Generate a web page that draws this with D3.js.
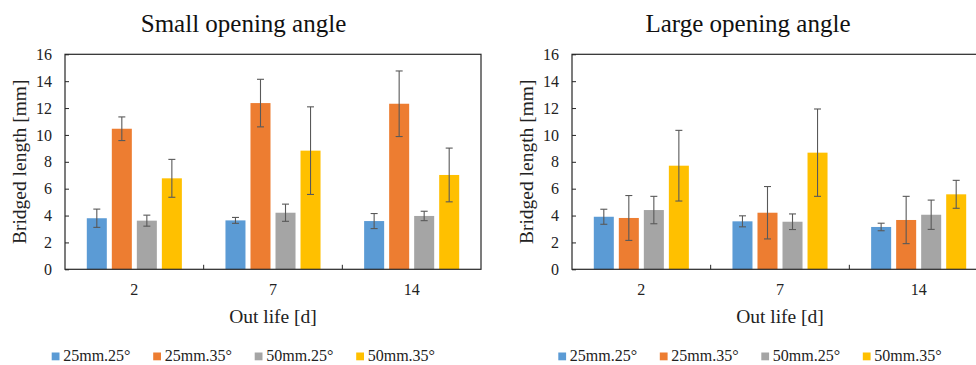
<!DOCTYPE html>
<html>
<head>
<meta charset="utf-8">
<script src="https://cdn.jsdelivr.net/npm/d3@7"></script>
<style>
  body { margin: 0; background: #fff; }
  svg { display: block; }
  svg text { font-family: "Liberation Serif", "Times New Roman", serif; }
</style>
</head>
<body>
<svg id="chart" width="976" height="365"></svg>
<script>
const categories = ['2', '7', '14'];
const seriesNames = ['25mm.25°', '25mm.35°', '50mm.25°', '50mm.35°'];
const colors = ['#5b9bd5', '#ed7d31', '#a5a5a5', '#ffc000'];
const yTicks = [0, 2, 4, 6, 8, 10, 12, 14, 16];

// small opening angle: mean and error per series, one value per out life
const smallMeans = [
  [3.80, 3.64, 3.59],
  [10.46, 12.37, 12.32],
  [3.62, 4.21, 3.97],
  [6.77, 8.83, 7.02]
];
const smallErrors = [
  [0.68, 0.22, 0.56],
  [0.88, 1.77, 2.44],
  [0.41, 0.64, 0.35],
  [1.41, 3.26, 2.00]
];

// large opening angle
const largeMeans = [
  [3.91, 3.57, 3.15],
  [3.82, 4.21, 3.67],
  [4.41, 3.54, 4.06],
  [7.71, 8.68, 5.58]
];
const largeErrors = [
  [0.56, 0.41, 0.28],
  [1.67, 1.95, 1.76],
  [1.02, 0.58, 1.09],
  [2.63, 3.25, 1.04]
];

const svg = d3.select('#chart');
const plotTop = 54.3, plotBottom = 269.3, plotW = 416;

const y = d3.scaleLinear().domain([0, 16]).range([plotBottom, plotTop]);

function drawChart(title, left, titleX, legendX, means, errors) {
  const g = svg.append('g');
  const x = d3.scaleBand().domain(categories).range([left, left + plotW]);
  const xs = d3.scaleBand().domain(seriesNames)
    .range([21.8, x.bandwidth() - 21.8]).paddingInner(0.2);

  g.append('text')
    .attr('x', titleX).attr('y', 31.5)
    .attr('text-anchor', 'middle')
    .style('font-size', '25px').attr('fill', '#111')
    .text(title);

  // bars
  const data = [];
  categories.forEach((c, ci) => {
    seriesNames.forEach((s, si) => {
      data.push({ c, s, si, v: means[si][ci], e: errors[si][ci] });
    });
  });

  g.selectAll('rect.bar')
    .data(data)
    .enter()
    .append('rect')
    .attr('class', 'bar')
    .attr('x', d => x(d.c) + xs(d.s))
    .attr('y', d => y(d.v))
    .attr('width', xs.bandwidth())
    .attr('height', d => y(0) - y(d.v))
    .attr('fill', d => colors[d.si]);

  // error bars
  const eb = g.selectAll('g.err')
    .data(data)
    .enter()
    .append('g')
    .attr('stroke', '#595959')
    .attr('stroke-width', 1.1);
  const cx = d => x(d.c) + xs(d.s) + xs.bandwidth() / 2;
  eb.append('line')
    .attr('x1', cx).attr('x2', cx)
    .attr('y1', d => y(d.v + d.e)).attr('y2', d => y(d.v - d.e));
  eb.append('line')
    .attr('x1', d => cx(d) - 3.5).attr('x2', d => cx(d) + 3.5)
    .attr('y1', d => y(d.v + d.e)).attr('y2', d => y(d.v + d.e));
  eb.append('line')
    .attr('x1', d => cx(d) - 3.5).attr('x2', d => cx(d) + 3.5)
    .attr('y1', d => y(d.v - d.e)).attr('y2', d => y(d.v - d.e));

  // plot frame
  g.append('rect')
    .attr('x', left).attr('y', plotTop)
    .attr('width', plotW).attr('height', plotBottom - plotTop)
    .attr('fill', 'none').attr('stroke', '#262626').attr('stroke-width', 1.2);

  // y axis
  const yAxis = g.append('g')
    .attr('transform', `translate(${left},0)`)
    .call(d3.axisLeft(y).tickValues(yTicks).tickSize(-4).tickPadding(13));
  yAxis.attr('font-family', null).attr('font-size', null);
  yAxis.select('.domain').remove();
  yAxis.selectAll('line').attr('stroke', '#262626');
  yAxis.selectAll('text').style('font-size', '16px').attr('fill', '#222');

  // x axis: ticks at category boundaries, labels centered
  const bounds = categories.slice(1).map(c => x(c));
  g.selectAll('line.xt')
    .data(bounds)
    .enter()
    .append('line')
    .attr('x1', d => d).attr('x2', d => d)
    .attr('y1', plotBottom).attr('y2', plotBottom - 4.5)
    .attr('stroke', '#262626');
  g.selectAll('text.xl')
    .data(categories)
    .enter()
    .append('text')
    .attr('x', d => x(d) + x.bandwidth() / 2)
    .attr('y', 295)
    .attr('text-anchor', 'middle')
    .style('font-size', '16px').attr('fill', '#222')
    .text(d => d);

  g.append('text')
    .attr('x', left + plotW / 2).attr('y', 323.3)
    .attr('text-anchor', 'middle')
    .style('font-size', '19.5px').attr('fill', '#222')
    .text('Out life [d]');

  g.append('text')
    .attr('transform', `translate(${left - 39},${(plotTop + plotBottom) / 2}) rotate(-90)`)
    .attr('text-anchor', 'middle')
    .style('font-size', '19.5px').attr('fill', '#222')
    .text('Bridged length [mm]');

  // legend
  const lg = g.selectAll('g.leg')
    .data(seriesNames)
    .enter()
    .append('g')
    .attr('transform', (d, i) => `translate(${legendX + i * 101.5},0)`);
  lg.append('rect')
    .attr('x', 0).attr('y', 352.5)
    .attr('width', 7.8).attr('height', 7.8)
    .attr('fill', (d, i) => colors[i]);
  lg.append('text')
    .attr('x', 11.5).attr('y', 361)
    .style('font-size', '16px').attr('fill', '#222')
    .text(d => d);
}

drawChart('Small opening angle', 65, 243.5, 51.7, smallMeans, smallErrors);
drawChart('Large opening angle', 572, 748, 558.3, largeMeans, largeErrors);
</script>
</body>
</html>
